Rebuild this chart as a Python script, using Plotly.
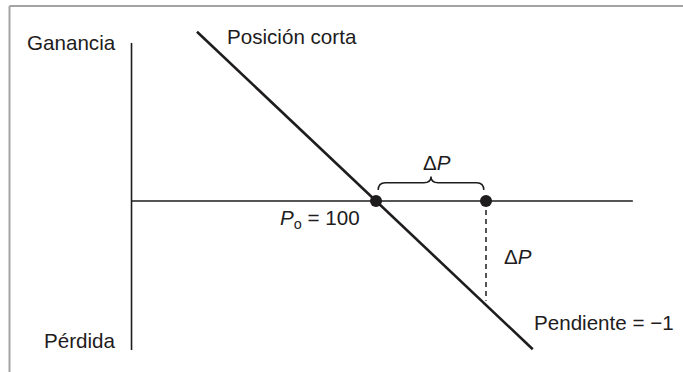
import plotly.graph_objects as go

# ---- data (price P on x, profit on y) ----
P0 = 100
P1 = 120
short_P = [67.45, 128.5]          # short-position payoff line
short_G = [32.55, -28.5]
dots_P = [P0, P1]
dots_G = [0, 0]
vaxis_P = [55.55, 55.55]
vaxis_G = [30.4, -28.65]
haxis_P = [55.55, 146.7]
haxis_G = [0, 0]
dash_P = [P1, P1]
dash_G = [0, -19.2]
brace_x = [100.4, 119.6]           # brace ends
brace_y = [2.1, 3.5, 4.7]          # tip, bar, middle point

labels = {
    "gan": "Ganancia",
    "per": "Pérdida",
    "pos": "Posición corta",
    "p0": "<i>P</i><sub>o</sub> = 100",
    "dp": "Δ<i>P</i>",
    "pend": "Pendiente = −1",
}

INK = "#1e1c1c"
FONT = dict(family="Liberation Sans, Arial, Helvetica, sans-serif", size=20.6, color=INK)

fig = go.Figure()
fig.add_trace(go.Scatter(x=vaxis_P, y=vaxis_G, mode="lines",
                         line=dict(color=INK, width=1.6), hoverinfo="skip"))
fig.add_trace(go.Scatter(x=haxis_P, y=haxis_G, mode="lines",
                         line=dict(color=INK, width=1.6), hoverinfo="skip"))
fig.add_trace(go.Scatter(x=short_P, y=short_G, mode="lines",
                         line=dict(color=INK, width=2.6), hoverinfo="skip"))
fig.add_trace(go.Scatter(x=dash_P, y=dash_G, mode="lines",
                         line=dict(color=INK, width=1.5, dash="5px,4px"), hoverinfo="skip"))
fig.add_trace(go.Scatter(x=dots_P, y=dots_G, mode="markers",
                         marker=dict(color=INK, size=12), hoverinfo="skip"))

# curly brace
x0, x1 = brace_x
ytip, ybar, ymid = brace_y
xm = (x0 + x1) / 2
r = 1.3
path = (f"M {x0},{ytip} Q {x0},{ybar} {x0+r},{ybar} L {xm-r},{ybar} "
        f"Q {xm},{ybar} {xm},{ymid} Q {xm},{ybar} {xm+r},{ybar} "
        f"L {x1-r},{ybar} Q {x1},{ybar} {x1},{ytip}")
fig.add_shape(type="path", path=path, xref="x", yref="y",
              line=dict(color=INK, width=1.5))

# frame (gray border on left/top)
W, H = 683, 372
fig.add_shape(type="line", xref="paper", yref="paper",
              x0=9.5 / W, x1=9.5 / W, y0=0, y1=1 - 6 / H,
              line=dict(color="#a3a3a3", width=2))
fig.add_shape(type="line", xref="paper", yref="paper",
              x0=9.5 / W, x1=1, y0=1 - 6 / H, y1=1 - 6 / H,
              line=dict(color="#a3a3a3", width=2))

def ann(text, x, y, xa="left", ya="middle"):
    fig.add_annotation(text=text, x=x, y=y, xref="x", yref="y",
                       xanchor=xa, yanchor=ya, showarrow=False, font=FONT)

ann(labels["gan"], 53.1, 30.4, xa="right")
ann(labels["per"], 53.1, -26.9, xa="right")
ann(labels["pos"], 72.55, 31.7)
ann(labels["p0"], 97.45, -3.4, xa="right")
ann(labels["dp"], 111.1, 7.5, xa="center")
ann(labels["dp"], 122.9, -10.6)
ann(labels["pend"], 128.4, -23.3)

fig.update_layout(
    width=W, height=H,
    margin=dict(l=0, r=0, t=0, b=0),
    paper_bgcolor="white", plot_bgcolor="white",
    showlegend=False, hovermode=False,
    xaxis=dict(range=[100 - 376 / 5.5, 100 + 307 / 5.5], visible=False, fixedrange=True),
    yaxis=dict(range=[-(372 - 201) / 5.2, 201 / 5.2], visible=False, fixedrange=True),
)

fig.write_html("out.html", config={"displayModeBar": False},
               post_script="document.body.style.margin='0';document.body.style.overflow='hidden';")
